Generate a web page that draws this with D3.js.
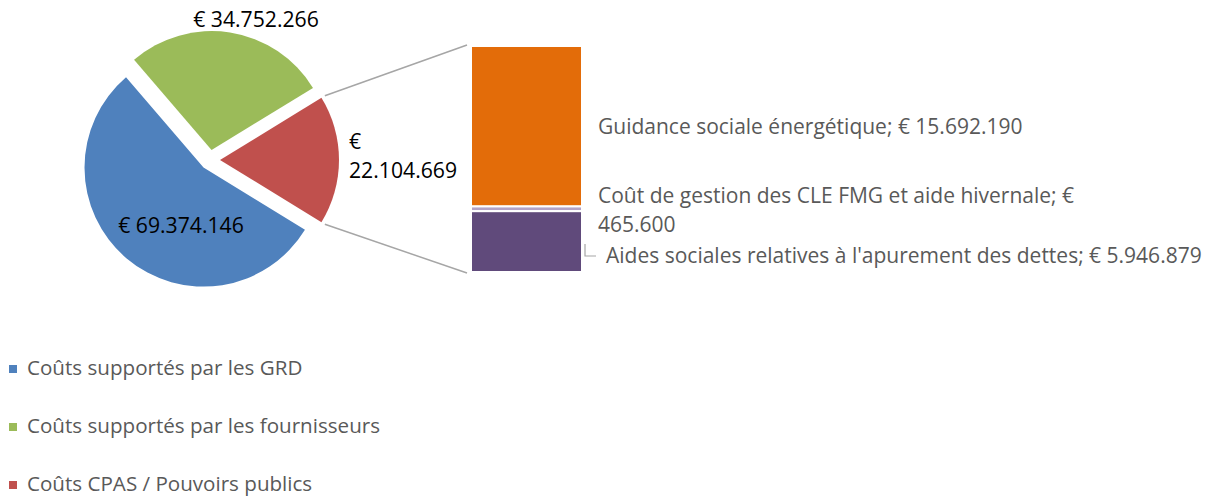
<!DOCTYPE html>
<html>
<head>
<meta charset="utf-8">
<script src="https://cdn.jsdelivr.net/npm/d3@7"></script>
<style>
	body { margin: 0; background: #fff; }
	text { font-family: "Open Sans", sans-serif; }
</style>
</head>
<body>
<div id="chart"></div>
<script>
// pie slices (legend order)
var pieNames = ["Coûts supportés par les GRD", "Coûts supportés par les fournisseurs", "Coûts CPAS / Pouvoirs publics"];
var pieValues = [69374146, 34752266, 22104669];
var pieColors = ["#4F81BD", "#9BBB59", "#C0504D"];

// split of the last slice (top to bottom in the bar)
var barNames = ["Guidance sociale énergétique", "Coût de gestion des CLE FMG et aide hivernale", "Aides sociales relatives à l'apurement des dettes"];
var barValues = [15692190, 465600, 5946879];
var barColors = ["#E36C09", "#B3A2C7", "#604A7B"];

var width = 1206, height = 496;
var loc = d3.formatLocale({decimal: ",", thousands: ".", grouping: [3], currency: ["€ ", ""]});
var euro = loc.format("$,.0f");

var svg = d3.select("#chart").append("svg")
	.attr("width", width)
	.attr("height", height);

// ---- pie
var cx = 210, cy = 160, r = 119, explode = 10;
var total = d3.sum(pieValues);
var lastFrac = pieValues[pieValues.length - 1] / total;
var a0 = Math.PI / 2 + lastFrac * Math.PI;

var pie = d3.pie().sort(null).startAngle(a0).endAngle(a0 + 2 * Math.PI);
var arcs = pie(pieValues);
var arc = d3.arc().innerRadius(0).outerRadius(r);

function shift(d) {
	var m = (d.startAngle + d.endAngle) / 2;
	return [Math.sin(m) * explode, -Math.cos(m) * explode];
}

svg.selectAll("path.slice").data(arcs).enter().append("path")
	.attr("class", "slice")
	.attr("d", arc)
	.attr("fill", function (d, i) { return pieColors[i]; })
	.attr("transform", function (d) {
		var s = shift(d);
		return "translate(" + (cx + s[0]) + "," + (cy + s[1]) + ")";
	});

// ---- bar of the split slice
var barX = 471, barW = 111, barTop = 46, barBottom = 272;
var y = d3.scaleLinear().domain([0, d3.sum(barValues)]).range([barTop, barBottom]);
var cum = 0;
var segs = barValues.map(function (v, i) {
	var s = {v: v, i: i, y0: cum, y1: cum + v};
	cum += v;
	return s;
});

svg.selectAll("rect.seg").data(segs).enter().append("rect")
	.attr("class", "seg")
	.attr("x", barX)
	.attr("width", barW)
	.attr("y", function (d) { return y(d.y0); })
	.attr("height", function (d) { return y(d.y1) - y(d.y0); })
	.attr("fill", function (d) { return barColors[d.i]; })
	.attr("stroke", "white")
	.attr("stroke-width", 2);

// connector lines from the split slice to the bar
var last = arcs[arcs.length - 1];
var ls = shift(last);
function edgePt(a) {
	var R = r + 4;
	return [cx + ls[0] + Math.sin(a) * R, cy + ls[1] - Math.cos(a) * R];
}
var pTop = edgePt(last.startAngle), pBot = edgePt(last.endAngle);
svg.append("line").attr("x1", pTop[0]).attr("y1", pTop[1]).attr("x2", barX - 4).attr("y2", barTop - 1)
	.attr("stroke", "#A6A6A6").attr("stroke-width", 1.5);
svg.append("line").attr("x1", pBot[0]).attr("y1", pBot[1]).attr("x2", barX - 4).attr("y2", barBottom + 1)
	.attr("stroke", "#A6A6A6").attr("stroke-width", 1.5);

// ---- pie labels
var pieFont = 21.2;
svg.append("text").attr("x", 256).attr("y", 21).attr("text-anchor", "middle")
	.attr("dominant-baseline", "middle").attr("font-size", pieFont).attr("fill", "#000")
	.text(euro(pieValues[1]));
svg.append("text").attr("x", 181).attr("y", 227).attr("text-anchor", "middle")
	.attr("dominant-baseline", "middle").attr("font-size", pieFont).attr("fill", "#000")
	.text(euro(pieValues[0]));
var redTxt = euro(pieValues[2]).split(" ");
svg.append("text").attr("x", 349).attr("y", 143)
	.attr("dominant-baseline", "middle").attr("font-size", pieFont).attr("fill", "#000")
	.text(redTxt[0]);
svg.append("text").attr("x", 349).attr("y", 172)
	.attr("dominant-baseline", "middle").attr("font-size", pieFont).attr("fill", "#000")
	.text(redTxt[1]);

// ---- bar labels
var lblFont = 21, gray = "#595959";
svg.append("text").attr("x", 598).attr("y", 128)
	.attr("dominant-baseline", "middle").attr("font-size", lblFont).attr("fill", gray)
	.text(barNames[0] + "; " + euro(barValues[0]));
var midTxt = euro(barValues[1]).split(" ");
svg.append("text").attr("x", 598).attr("y", 197)
	.attr("dominant-baseline", "middle").attr("font-size", lblFont).attr("fill", gray)
	.text(barNames[1] + "; " + midTxt[0]);
svg.append("text").attr("x", 598).attr("y", 226)
	.attr("dominant-baseline", "middle").attr("font-size", lblFont).attr("fill", gray)
	.text(midTxt[1]);
svg.append("text").attr("x", 606).attr("y", 257)
	.attr("dominant-baseline", "middle").attr("font-size", lblFont).attr("fill", gray)
	.text(barNames[2] + "; " + euro(barValues[2]));
svg.append("path").attr("d", "M585,244V256H596")
	.attr("fill", "none").attr("stroke", "#A6A6A6").attr("stroke-width", 1.2);

// ---- legend
var legFont = 20.6;
var leg = svg.selectAll("g.leg").data(pieNames).enter().append("g")
	.attr("class", "leg")
	.attr("transform", function (d, i) { return "translate(0," + (369 + i * 58) + ")"; });
leg.append("rect").attr("x", 9).attr("y", -4).attr("width", 8).attr("height", 8)
	.attr("fill", function (d, i) { return pieColors[i]; });
leg.append("text").attr("x", 27).attr("y", 0)
	.attr("dominant-baseline", "middle").attr("font-size", legFont).attr("fill", gray)
	.text(function (d) { return d; });
</script>
</body>
</html>
